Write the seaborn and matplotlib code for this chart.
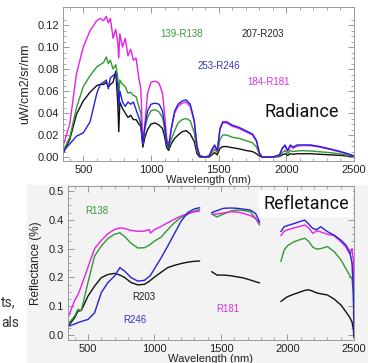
import numpy as np
import pandas as pd
import matplotlib
matplotlib.use("Agg")
import matplotlib.pyplot as plt
from matplotlib.patches import Rectangle
import seaborn as sns

sns.set_style("ticks")
plt.rcParams['font.family'] = ['Liberation Sans', 'DejaVu Sans']

# ---------------- Radiance data ----------------
rad_wl = [350, 400, 450, 500, 550, 600, 625, 650, 670, 685, 700, 720, 740, 755, 762, 770,
          790, 810, 830, 850, 870, 890, 910, 925, 940, 955, 975, 1000, 1030, 1060, 1085,
          1100, 1115, 1130, 1150, 1175, 1200, 1230, 1260, 1290, 1320, 1340, 1360, 1400,
          1430, 1450, 1470, 1490, 1510, 1530, 1560, 1600, 1650, 1700, 1750, 1780, 1800,
          1820, 1900, 1950, 1970, 1990, 2010, 2030, 2050, 2080, 2120, 2180, 2250, 2320,
          2400, 2460, 2500]
rad_r181 = [0.010, 0.030, 0.076, 0.100, 0.115, 0.124, 0.126, 0.124, 0.128, 0.122, 0.126,
            0.108, 0.116, 0.104, 0.090, 0.112, 0.100, 0.108, 0.092, 0.098, 0.088, 0.090,
            0.072, 0.062, 0.012, 0.030, 0.058, 0.068, 0.069, 0.067, 0.058, 0.040, 0.018,
            0.010, 0.025, 0.040, 0.046, 0.049, 0.050, 0.046, 0.032, 0.010, 0.001, 0.000,
            0.001, 0.006, 0.010, 0.005, 0.025, 0.031, 0.031, 0.028, 0.026, 0.023, 0.020,
            0.014, 0.004, 0.000, 0.000, 0.002, 0.008, 0.010, 0.005, 0.010, 0.008, 0.010,
            0.0105, 0.0103, 0.009, 0.007, 0.0045, 0.0025, 0.001]
rad_r246 = [0.005, 0.012, 0.019, 0.022, 0.032, 0.058, 0.066, 0.068, 0.070, 0.062, 0.072,
            0.074, 0.076, 0.065, 0.045, 0.060, 0.050, 0.046, 0.050, 0.048, 0.050, 0.043,
            0.036, 0.030, 0.012, 0.028, 0.042, 0.048, 0.049, 0.048, 0.042, 0.030, 0.014,
            0.009, 0.026, 0.042, 0.048, 0.051, 0.052, 0.048, 0.033, 0.010, 0.001, 0.000,
            0.001, 0.007, 0.011, 0.006, 0.026, 0.032, 0.032, 0.029, 0.027, 0.024, 0.021,
            0.015, 0.004, 0.000, 0.000, 0.002, 0.008, 0.011, 0.006, 0.011, 0.009, 0.011,
            0.011, 0.011, 0.0095, 0.0075, 0.005, 0.0028, 0.001]
rad_r138 = [0.005, 0.018, 0.045, 0.064, 0.074, 0.082, 0.084, 0.086, 0.091, 0.085, 0.088,
            0.080, 0.084, 0.072, 0.056, 0.070, 0.066, 0.064, 0.058, 0.059, 0.056, 0.055,
            0.046, 0.040, 0.012, 0.026, 0.036, 0.042, 0.043, 0.041, 0.036, 0.026, 0.012,
            0.008, 0.016, 0.024, 0.031, 0.034, 0.035, 0.033, 0.022, 0.006, 0.001, 0.000,
            0.001, 0.004, 0.007, 0.004, 0.016, 0.020, 0.020, 0.018, 0.017, 0.015, 0.013,
            0.009, 0.003, 0.000, 0.000, 0.001, 0.004, 0.006, 0.003, 0.006, 0.005, 0.0055,
            0.0058, 0.0055, 0.0048, 0.004, 0.0028, 0.0015, 0.0008]
rad_r203 = [0.003, 0.016, 0.039, 0.051, 0.059, 0.065, 0.066, 0.066, 0.068, 0.064, 0.066,
            0.068, 0.078, 0.048, 0.023, 0.050, 0.044, 0.040, 0.036, 0.038, 0.034, 0.034,
            0.030, 0.028, 0.009, 0.018, 0.025, 0.030, 0.031, 0.029, 0.026, 0.019, 0.009,
            0.006, 0.012, 0.017, 0.020, 0.023, 0.024, 0.021, 0.014, 0.003, 0.000, 0.000,
            0.000, 0.002, 0.004, 0.002, 0.008, 0.0095, 0.0095, 0.0085, 0.0075, 0.006, 0.005,
            0.003, 0.001, 0.000, 0.000, 0.0005, 0.002, 0.003, 0.0015, 0.003, 0.0025, 0.003,
            0.003, 0.003, 0.0025, 0.002, 0.0015, 0.0008, 0.0005]

# ---------------- Reflectance data (three segments) ----------------
ref_wl = [350, 400, 425, 450, 500, 550, 600, 650, 700, 740, 775, 825, 875, 925, 960, 970,
          1000, 1050, 1100, 1150, 1200, 1250, 1300, 1340,
          1430, 1470, 1520, 1570, 1620, 1670, 1720, 1760, 1790,
          1950, 1975, 2000, 2050, 2100, 2130, 2160, 2190, 2220, 2250, 2300, 2350, 2400,
          2440, 2470, 2485, 2495, 2500]
ref_seg = [1] * 24 + [2] * 9 + [3] * 18
ref_r181 = [0.060, 0.120, 0.140, 0.170, 0.235, 0.300, 0.328, 0.352, 0.366, 0.372, 0.370,
            0.363, 0.360, 0.361, 0.366, 0.354, 0.366, 0.377, 0.390, 0.402, 0.413, 0.422,
            0.428, 0.430,
            0.420, 0.420, 0.424, 0.428, 0.427, 0.422, 0.415, 0.405, 0.388,
            0.345, 0.360, 0.365, 0.372, 0.378, 0.382, 0.372, 0.353, 0.362, 0.358, 0.350,
            0.345, 0.325, 0.305, 0.280, 0.300, 0.260, 0.050]
ref_r138 = [0.037, 0.066, 0.089, 0.085, 0.182, 0.274, 0.309, 0.335, 0.350, 0.355, 0.342,
            0.318, 0.302, 0.303, 0.312, 0.315, 0.326, 0.340, 0.366, 0.390, 0.408, 0.419,
            0.430, 0.436,
            0.420, 0.410, 0.420, 0.430, 0.434, 0.432, 0.428, 0.405, 0.382,
            0.255, 0.295, 0.310, 0.324, 0.332, 0.336, 0.325, 0.305, 0.298, 0.300, 0.307,
            0.290, 0.262, 0.230, 0.205, 0.195, 0.150, 0.050]
ref_r246 = [0.030, 0.038, 0.043, 0.047, 0.054, 0.077, 0.147, 0.182, 0.205, 0.234, 0.222,
            0.199, 0.187, 0.190, 0.203, 0.207, 0.230, 0.268, 0.309, 0.352, 0.395, 0.425,
            0.438, 0.442,
            0.425, 0.432, 0.440, 0.441, 0.440, 0.437, 0.434, 0.422, 0.393,
            0.359, 0.376, 0.380, 0.387, 0.395, 0.399, 0.385, 0.370, 0.366, 0.376, 0.359,
            0.347, 0.330, 0.312, 0.285, 0.250, 0.150, 0.005]
ref_r203 = [0.030, 0.060, 0.083, 0.085, 0.135, 0.170, 0.199, 0.210, 0.214, 0.208, 0.200,
            0.182, 0.174, 0.176, 0.186, 0.190, 0.201, 0.218, 0.234, 0.242, 0.248, 0.253,
            0.256, 0.257,
            0.220, 0.208, 0.208, 0.206, 0.202, 0.198, 0.191, 0.185, 0.181,
            0.116, 0.125, 0.133, 0.142, 0.150, 0.155, 0.157, 0.152, 0.146, 0.143, 0.139,
            0.125, 0.105, 0.080, 0.060, 0.045, 0.020, -0.010]

series_names = ["R203", "R138", "R181", "R246"]
colors = {"R203": "#111111", "R138": "#2f9a2f", "R181": "#e81ee8", "R246": "#2323d8"}
rad_vals = {"R203": rad_r203, "R138": rad_r138, "R181": rad_r181, "R246": rad_r246}
ref_vals = {"R203": ref_r203, "R138": ref_r138, "R181": ref_r181, "R246": ref_r246}

rad_df = pd.concat([pd.DataFrame({"wl": rad_wl, "val": rad_vals[s], "series": s, "seg": 1})
                    for s in series_names], ignore_index=True)
ref_df = pd.concat([pd.DataFrame({"wl": ref_wl, "val": ref_vals[s], "series": s, "seg": ref_seg})
                    for s in series_names], ignore_index=True)

W, H = 368, 363
fig = plt.figure(figsize=(W / 100, H / 100), dpi=100)
fig.patch.set_facecolor("white")
fig.patches.append(Rectangle((27 / W, 0), (W - 27) / W, (H - 185) / H,
                             transform=fig.transFigure, color="#f3f3f3", zorder=-5))

def box(l, t, r, b):
    return [l / W, 1 - b / H, (r - l) / W, (b - t) / H]

ax1 = fig.add_axes(box(63, 7, 354, 161))
ax2 = fig.add_axes(box(68, 186, 354, 340))
ax1.set_zorder(2)
ax2.set_zorder(2)
ax2.set_facecolor("#f3f3f3")

sns.lineplot(data=rad_df, x="wl", y="val", hue="series", hue_order=series_names,
             units="seg", estimator=None, sort=False, palette=colors, legend=False,
             linewidth=1.0, ax=ax1)
sns.lineplot(data=ref_df, x="wl", y="val", hue="series", hue_order=series_names,
             units="seg", estimator=None, sort=False, palette=colors, legend=False,
             linewidth=1.0, ax=ax2)

for ax in (ax1, ax2):
    ax.set_xlim(350, 2500)
    ax.set_xticks([500, 1000, 1500, 2000, 2500])
    ax.set_xticks(np.arange(400, 2500, 100), minor=True)
    ax.tick_params(which="both", direction="in", top=True, right=True,
                   labelsize=8, colors="#888888", labelcolor="#222222", pad=3)
    ax.tick_params(which="major", length=4, width=0.6)
    ax.tick_params(which="minor", length=2, width=0.5)
    for sp in ax.spines.values():
        sp.set_color("#999999")
        sp.set_linewidth(0.7)
    ax.set_xlabel("Wavelength (nm)", fontsize=8, labelpad=0, color="#222222")

ax1.set_ylim(-0.0036, 0.1364)
ax1.set_yticks([0.00, 0.02, 0.04, 0.06, 0.08, 0.10, 0.12])
ax1.set_yticks(np.arange(0.005, 0.13, 0.005), minor=True)
ax1.set_yticklabels(["0.00", "0.02", "0.04", "0.06", "0.08", "0.10", "0.12"])
ax1.set_ylabel("uW/cm2/sr/nm", fontsize=9, color="#222222", labelpad=4)

ax2.set_ylim(-0.0174, 0.5174)
ax2.set_yticks([0.0, 0.1, 0.2, 0.3, 0.4, 0.5])
ax2.set_yticks(np.arange(0.025, 0.5, 0.025), minor=True)
ax2.set_yticklabels(["0.0", "0.1", "0.2", "0.3", "0.4", "0.5"])
ax2.set_ylabel("Reflectance (%)", fontsize=8.5, color="#222222", labelpad=5)

def ftext(x, y, s, **kw):
    fig.text(x / W, 1 - y / H, s, zorder=10, **kw)

small = dict(fontsize=7, va="center", ha="left")
ftext(160, 34, "139-R138", color="#3a9a3a", **small)
ftext(242, 34, "207-R203", color="#222222", **small)
ftext(198, 66, "253-R246", color="#3333cc", **small)
ftext(247, 82, "184-R181", color="#dd33dd", **small)
ftext(264, 112, "Radiance", fontsize=13, family=["Roboto", "DejaVu Sans"],
      va="center", ha="left", color="#111111")

ftext(85, 211, "R138", color="#3a9a3a", **small)
ftext(132, 297, "R203", color="#222222", **small)
ftext(123, 320, "R246", color="#3333cc", **small)
ftext(216, 309, "R181", color="#dd33dd", **small)
ftext(306, 204, "Refletance", fontsize=13, family=["Roboto", "DejaVu Sans"],
      va="center", ha="center", color="#111111",
      bbox=dict(facecolor="white", edgecolor="none", pad=3))

ftext(1, 302, "ts,", fontsize=10, family=["Roboto", "DejaVu Sans"],
      va="center", ha="left", color="#333333")
ftext(1, 323, "als", fontsize=10, family=["Roboto", "DejaVu Sans"],
      va="center", ha="left", color="#333333")

fig.savefig("out.png", dpi=100)
